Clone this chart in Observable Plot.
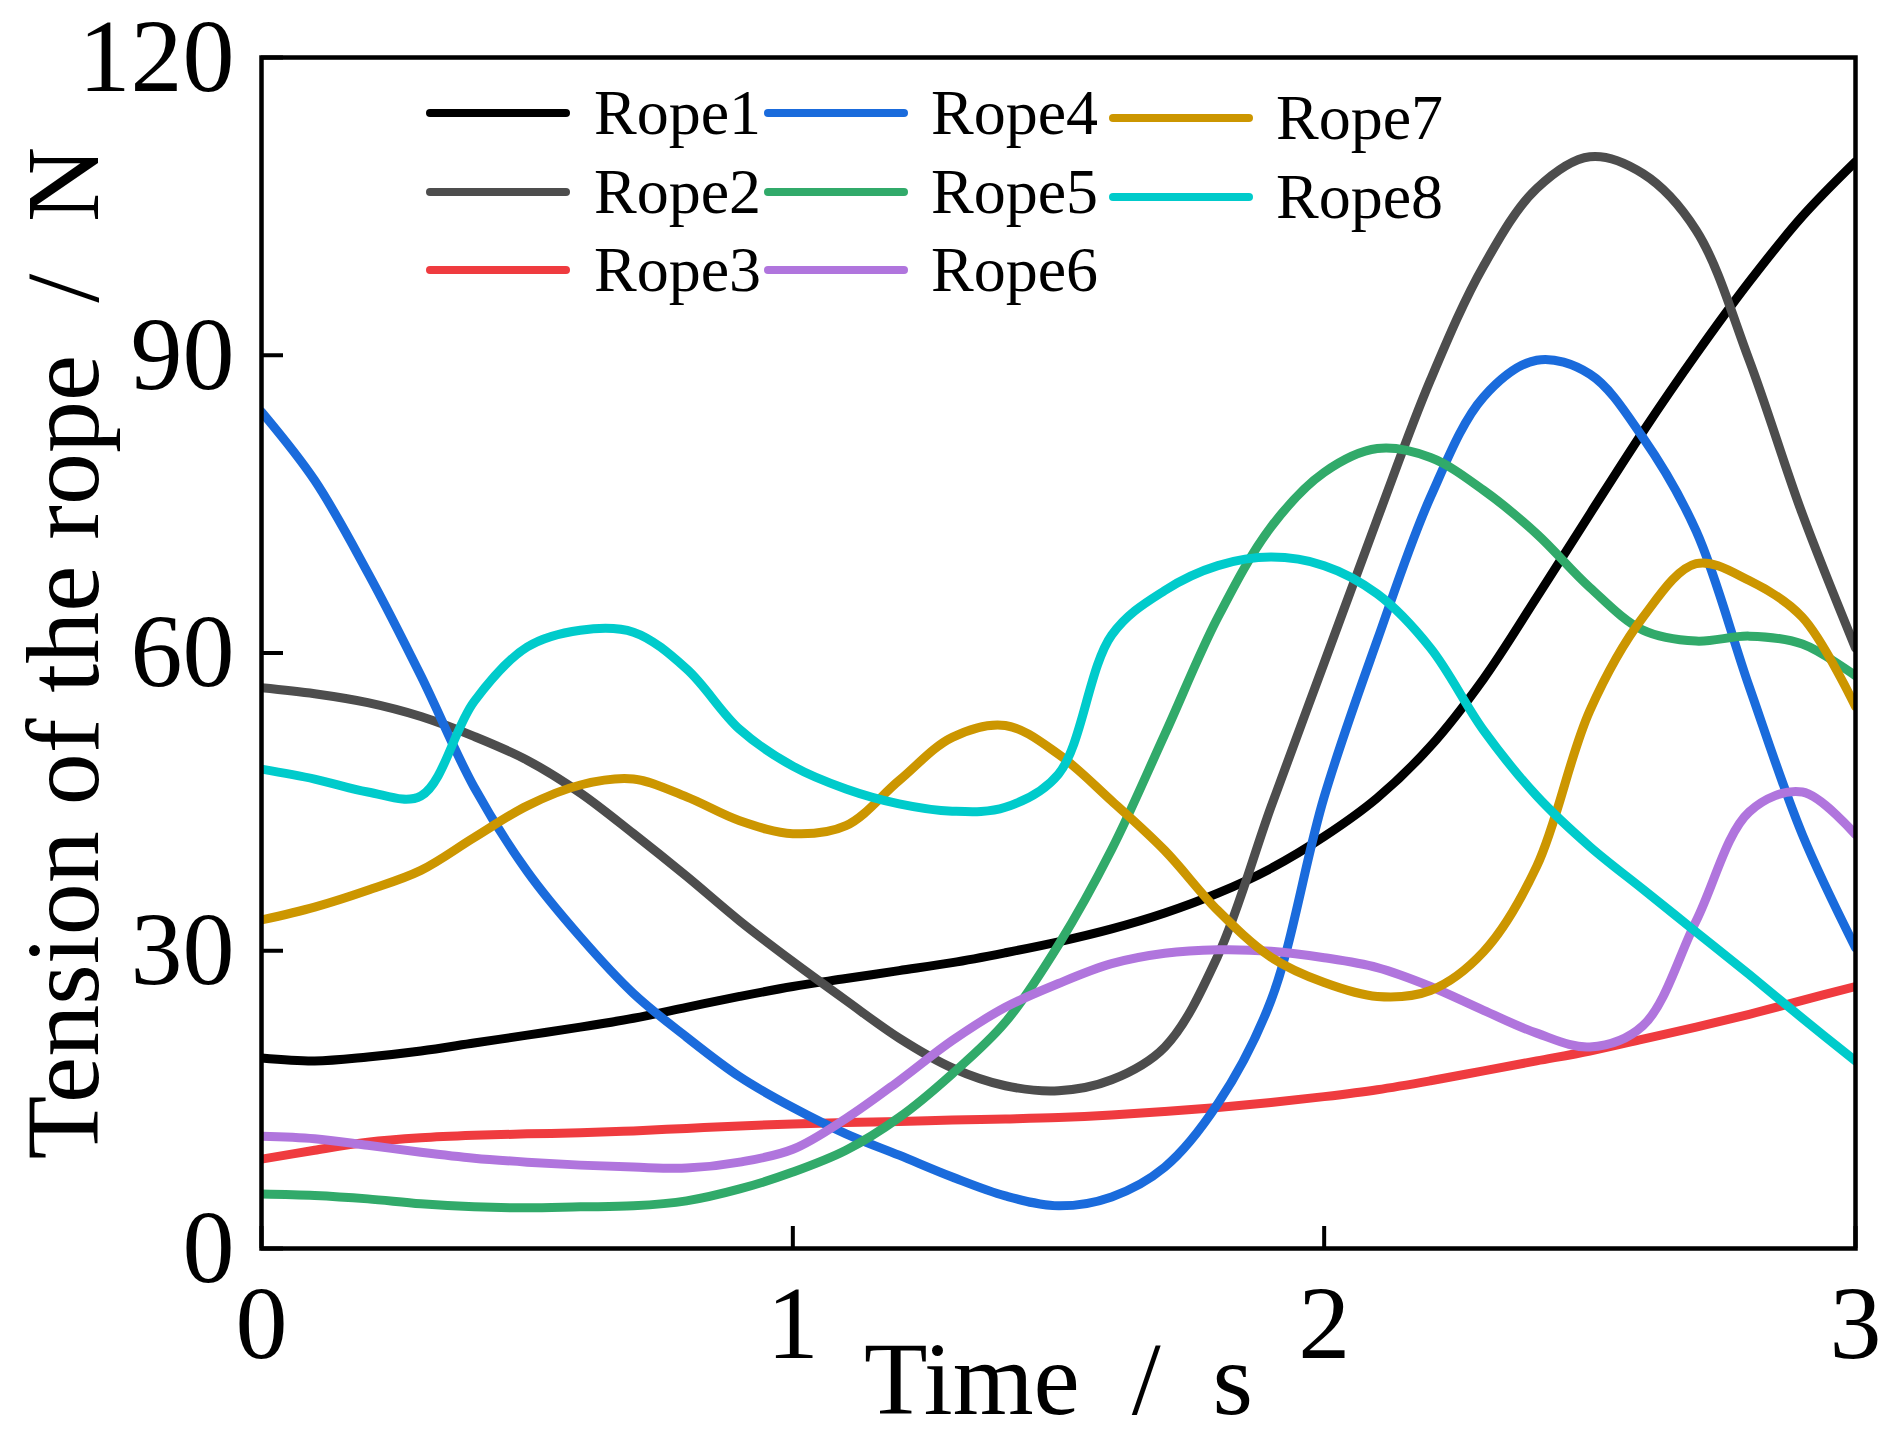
<!DOCTYPE html>
<html><head><meta charset="utf-8">
<script src="https://cdn.jsdelivr.net/npm/d3@7"></script>
<script src="https://cdn.jsdelivr.net/npm/@observablehq/plot@0.6"></script>
<style>
html,body{margin:0;padding:0;background:#fff;overflow:hidden;}
#chart{position:relative;width:1892px;height:1441px;}
</style></head><body><div id="chart"></div>
<script>
// ---- data ----
const time  = [0.0,0.1,0.2,0.3,0.4,0.5,0.6,0.7,0.8,0.9,1.0,1.1,1.2,1.3,1.4,1.5,1.6,1.7,1.8,1.9,2.0,2.1,2.2,2.3,2.4,2.5,2.6,2.7,2.8,2.9,3.0];
const rope1 = [19.2,18.9,19.3,19.9,20.7,21.5,22.3,23.2,24.3,25.4,26.4,27.2,28.0,28.8,29.8,30.9,32.2,33.8,35.8,38.3,41.5,45.4,50.6,57.4,65.6,74.0,82.3,90.1,97.4,104.0,109.5];
const rope2 = [56.5,55.9,55.0,53.6,51.6,49.2,45.9,41.8,37.5,33.0,28.9,25.0,21.2,18.2,16.4,15.9,17.0,20.3,29.5,44.5,59.0,73.5,87.5,99.0,106.8,110.0,108.3,102.6,89.5,74.0,60.5];
const rope3 = [9.0,9.9,10.7,11.15,11.4,11.55,11.65,11.85,12.1,12.35,12.55,12.7,12.8,12.95,13.06,13.2,13.45,13.8,14.2,14.7,15.3,16.0,16.9,17.9,18.9,19.9,21.1,22.3,23.6,25.0,26.4];
const rope4 = [84.3,77.4,68.1,57.7,46.5,38.0,31.4,25.7,21.3,17.3,14.2,11.55,9.4,7.2,5.3,4.3,5.2,8.2,14.6,25.0,45.5,61.3,75.7,85.8,89.5,88.1,81.7,72.3,56.6,41.7,30.3];
const rope5 = [5.5,5.35,5.0,4.5,4.2,4.1,4.2,4.3,4.8,6.0,7.7,9.9,13.2,17.6,22.8,30.6,40.2,51.8,63.6,72.7,78.2,80.6,79.7,76.4,72.0,66.6,62.3,61.2,61.7,60.9,57.7];
const rope6 = [11.3,11.05,10.4,9.7,9.1,8.7,8.4,8.2,8.1,8.7,10.0,13.1,16.9,20.95,24.3,26.7,28.7,29.75,30.1,29.95,29.3,28.3,26.4,24.0,21.7,20.3,22.45,33.0,44.0,46.0,41.7];
const rope7 = [33.1,34.4,36.1,38.1,41.4,44.6,46.7,47.3,45.5,43.1,41.8,42.6,47.15,51.5,52.7,49.8,45.1,40.1,34.05,29.35,26.8,25.4,26.0,29.9,38.5,54.2,63.6,69.0,67.3,63.6,54.6];
const rope8 = [48.3,47.3,46.0,45.6,55.1,60.6,62.3,62.1,58.4,52.3,48.6,46.3,44.8,44.06,44.45,47.8,61.8,66.3,68.8,69.66,68.8,65.95,60.5,52.2,45.6,40.5,36.2,31.9,27.6,23.2,18.9];

const seriesNames  = ["Rope1","Rope2","Rope3","Rope4","Rope5","Rope6","Rope7","Rope8"];
const seriesColors = ["#000000","#4d4d4d","#ef3b3f","#1a6bdc","#31aa6a","#b075dd","#cc9600","#00cbcb"];
const xTicks = [0,1,2,3];
const yTicks = [0,30,60,90,120];
const xTitle = "Time\u2002/\u2002s";
const yTitle = "Tension of the rope\u2002/\u2002N";

// ---- build long table ----
const seriesValues = [rope1,rope2,rope3,rope4,rope5,rope6,rope7,rope8];
const table = [];
seriesNames.forEach((name,i) => time.forEach((t,j) => table.push({rope:name, t:t, v:seriesValues[i][j]})));

const FONT = '"Liberation Serif","Times New Roman",serif';
const W = 1892, H = 1441, ML = 261, MR = 37, MT = 57, MB = 193;

const chart = Plot.plot({
  width: W, height: H,
  marginLeft: ML, marginRight: MR, marginTop: MT, marginBottom: MB,
  style: {fontFamily: FONT, background: "#fff", color: "#000", overflow: "visible"},
  x: {domain: [0,3]},
  y: {domain: [0,120]},
  color: {domain: seriesNames, range: seriesColors},
  marks: [
    Plot.line(table, {x: "t", y: "v", z: "rope", stroke: "rope", strokeWidth: 9, curve: "catmull-rom", strokeLinecap: "round", clip: true}),
    Plot.frame({stroke: "#000", strokeWidth: 4.5}),
    Plot.axisX({ticks: xTicks, tickSize: -22, tickPadding: 58, tickFormat: d => String(d), fontSize: 104, strokeWidth: 4, label: null}),
    Plot.axisY({ticks: yTicks, tickSize: -22, tickPadding: 49, tickFormat: d => String(d), fontSize: 104, strokeWidth: 4, label: null}),
    Plot.text([xTitle], {text: d => d, frameAnchor: "bottom", dy: 132, fontSize: 104, lineAnchor: "middle", textAnchor: "middle"}),
    Plot.text([yTitle], {text: d => d, frameAnchor: "left", dx: -197, rotate: -90, fontSize: 104, lineAnchor: "middle", textAnchor: "middle"})
  ]
});
document.getElementById("chart").appendChild(chart);

// ---- legend (3 columns) ----
const legendLineX  = [430, 768, 1113];
const legendLineLen = 136;
const legendTextX  = [594, 931, 1276];
const legendRowY   = [[113,192,270],[113,192,270],[118,197]];
const svg = d3.select(chart);
const leg = svg.append("g").attr("font-family", FONT).attr("font-size", 64).attr("text-anchor", "start");
seriesNames.forEach((name, i) => {
  const col = Math.floor(i / 3), row = i % 3;
  const y = legendRowY[col][row];
  leg.append("line")
    .attr("x1", legendLineX[col]).attr("x2", legendLineX[col] + legendLineLen)
    .attr("y1", y).attr("y2", y)
    .attr("stroke", seriesColors[i]).attr("stroke-width", 8).attr("stroke-linecap", "round");
  leg.append("text")
    .attr("x", legendTextX[col]).attr("y", y + 21)
    .attr("text-anchor", "start")
    .attr("fill", "#000").text(name);
});
</script></body></html>
